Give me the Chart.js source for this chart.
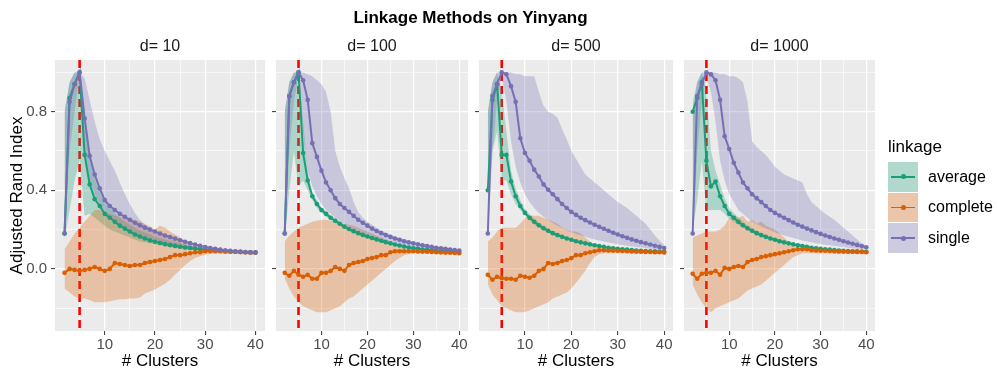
<!DOCTYPE html>
<html>
<head>
<meta charset="utf-8">
<script src="https://cdn.jsdelivr.net/npm/chart.js@4.4.1/dist/chart.umd.min.js"></script>
<style>
  body { margin: 0; background: #fff; width: 997px; height: 369px; position: relative; overflow: hidden;
         font-family: "Liberation Sans", Arial, sans-serif; }
  canvas { position: absolute; left: 0; top: 0; }
  .txt { position: absolute; white-space: nowrap; }
</style>
</head>
<body>
<script>
// x values: number of clusters
const clusters = [2,3,4,5,6,7,8,9,10,11,12,13,14,15,16,17,18,19,20,21,22,23,24,25,26,27,28,29,30,31,32,33,34,35,36,37,38,39,40];
const panelLabels = ['d= 10', 'd= 100', 'd= 500', 'd= 1000'];
const linkages = ['average', 'complete', 'single'];
const trueClusters = 5;
const xTicks = [5, 10, 15, 20, 25, 30, 35, 40];
const xLabelTicks = [10, 20, 30, 40];
const yTicks = [-0.2, 0, 0.2, 0.4, 0.6, 0.8, 1.0];
const yLabelTicks = [0, 0.4, 0.8];

// d = 10
const avg10   = [0.18,0.87,0.94,1.00,0.58,0.43,0.355,0.32,0.28,0.26,0.24,0.22,0.205,0.19,0.175,0.165,0.155,0.145,0.138,0.132,0.126,0.121,0.117,0.113,0.109,0.106,0.103,0.100,0.098,0.096,0.094,0.092,0.090,0.089,0.087,0.086,0.085,0.084,0.083];
const avg10Lo = [0.15,0.30,0.45,0.55,0.27,0.28,0.26,0.24,0.22,0.20,0.19,0.18,0.17,0.16,0.15,0.14,0.135,0.13,0.125,0.12,0.115,0.11,0.106,0.103,0.100,0.098,0.096,0.094,0.092,0.090,0.088,0.087,0.085,0.084,0.083,0.082,0.081,0.080,0.079];
const avg10Hi = [0.80,0.95,1.00,1.00,0.80,0.60,0.46,0.39,0.34,0.31,0.285,0.26,0.24,0.225,0.21,0.195,0.185,0.175,0.165,0.155,0.148,0.141,0.135,0.13,0.125,0.12,0.115,0.111,0.107,0.104,0.101,0.099,0.097,0.095,0.093,0.091,0.090,0.088,0.087];
const com10   = [-0.02,0.00,-0.005,-0.01,-0.005,0.00,0.01,0.00,-0.01,0.00,0.03,0.025,0.02,0.015,0.02,0.02,0.03,0.035,0.04,0.045,0.05,0.06,0.07,0.07,0.075,0.08,0.085,0.085,0.09,0.09,0.09,0.09,0.089,0.088,0.087,0.086,0.085,0.084,0.083];
const com10Lo = [-0.10,-0.12,-0.14,-0.15,-0.15,-0.16,-0.17,-0.17,-0.17,-0.165,-0.16,-0.155,-0.155,-0.15,-0.15,-0.145,-0.125,-0.115,-0.105,-0.09,-0.075,-0.055,-0.03,-0.005,0.02,0.04,0.055,0.065,0.072,0.076,0.078,0.078,0.077,0.077,0.076,0.075,0.074,0.073,0.072];
const com10Hi = [0.10,0.14,0.18,0.21,0.24,0.27,0.30,0.30,0.29,0.28,0.27,0.265,0.26,0.255,0.25,0.24,0.23,0.215,0.20,0.22,0.21,0.19,0.175,0.16,0.145,0.13,0.12,0.11,0.10,0.097,0.095,0.094,0.093,0.092,0.091,0.090,0.089,0.088,0.087];
const sin10   = [0.18,0.85,0.94,1.00,0.765,0.575,0.48,0.41,0.35,0.32,0.30,0.28,0.265,0.25,0.235,0.222,0.21,0.20,0.19,0.18,0.17,0.162,0.154,0.146,0.138,0.131,0.124,0.117,0.111,0.106,0.102,0.098,0.095,0.092,0.090,0.088,0.086,0.085,0.084];
const sin10Lo = [0.15,0.60,0.80,0.98,0.60,0.45,0.38,0.33,0.29,0.26,0.24,0.22,0.205,0.19,0.178,0.168,0.158,0.15,0.142,0.135,0.128,0.122,0.117,0.112,0.108,0.104,0.100,0.097,0.095,0.093,0.091,0.089,0.087,0.086,0.085,0.084,0.083,0.082,0.081];
const sin10Hi = [0.80,0.95,1.00,1.00,0.97,0.86,0.75,0.66,0.60,0.55,0.50,0.44,0.38,0.33,0.285,0.25,0.225,0.21,0.195,0.182,0.17,0.157,0.145,0.135,0.125,0.118,0.112,0.107,0.103,0.100,0.097,0.095,0.093,0.091,0.090,0.089,0.088,0.087,0.086];

// d = 100
const avg100   = [0.18,0.88,0.95,1.00,0.59,0.45,0.37,0.33,0.30,0.28,0.26,0.245,0.23,0.215,0.203,0.192,0.182,0.173,0.165,0.157,0.15,0.143,0.136,0.13,0.124,0.119,0.114,0.109,0.105,0.102,0.099,0.097,0.095,0.093,0.091,0.09,0.088,0.087,0.086];
const avg100Lo = [0.15,0.40,0.60,0.42,0.45,0.40,0.35,0.31,0.285,0.265,0.247,0.232,0.218,0.204,0.192,0.182,0.172,0.164,0.156,0.149,0.142,0.136,0.13,0.124,0.118,0.113,0.109,0.104,0.1,0.097,0.095,0.093,0.091,0.089,0.087,0.086,0.085,0.084,0.083];
const avg100Hi = [0.80,0.95,1.00,1.00,0.75,0.50,0.39,0.35,0.315,0.295,0.273,0.258,0.242,0.226,0.214,0.202,0.192,0.182,0.174,0.165,0.158,0.15,0.142,0.136,0.13,0.125,0.119,0.114,0.11,0.107,0.103,0.101,0.099,0.097,0.095,0.094,0.092,0.09,0.089];
const com100   = [-0.02,-0.035,-0.01,-0.03,-0.04,-0.03,-0.05,-0.05,-0.02,-0.02,-0.01,0.01,0.00,-0.01,0.02,0.03,0.035,0.04,0.05,0.055,0.06,0.07,0.07,0.085,0.09,0.09,0.09,0.09,0.09,0.089,0.088,0.087,0.086,0.085,0.084,0.083,0.082,0.081,0.08];
const com100Lo = [-0.05,-0.10,-0.14,-0.17,-0.19,-0.20,-0.21,-0.22,-0.22,-0.22,-0.21,-0.20,-0.19,-0.17,-0.15,-0.14,-0.12,-0.10,-0.08,-0.06,-0.04,-0.02,0.00,0.02,0.04,0.055,0.07,0.076,0.08,0.08,0.08,0.079,0.078,0.077,0.076,0.075,0.074,0.073,0.072];
const com100Hi = [0.14,0.17,0.19,0.21,0.22,0.23,0.24,0.245,0.25,0.25,0.245,0.24,0.235,0.23,0.225,0.22,0.21,0.20,0.19,0.18,0.17,0.16,0.15,0.14,0.13,0.12,0.11,0.10,0.095,0.093,0.092,0.091,0.09,0.089,0.088,0.087,0.086,0.085,0.084];
const sin100   = [0.18,0.88,0.95,1.00,0.96,0.86,0.64,0.57,0.50,0.44,0.40,0.36,0.33,0.31,0.29,0.27,0.25,0.235,0.22,0.205,0.193,0.182,0.172,0.163,0.155,0.148,0.141,0.135,0.13,0.125,0.12,0.116,0.112,0.108,0.105,0.102,0.099,0.096,0.094];
const sin100Lo = [0.15,0.60,0.85,0.98,0.70,0.50,0.42,0.37,0.33,0.30,0.28,0.26,0.245,0.23,0.215,0.20,0.19,0.18,0.17,0.162,0.154,0.147,0.14,0.134,0.128,0.123,0.118,0.113,0.109,0.106,0.103,0.1,0.098,0.096,0.094,0.092,0.09,0.089,0.088];
const sin100Hi = [0.80,0.95,1.00,1.00,1.00,0.99,0.98,0.96,0.94,0.90,0.80,0.60,0.52,0.46,0.41,0.34,0.29,0.26,0.24,0.225,0.21,0.197,0.185,0.175,0.165,0.157,0.149,0.142,0.135,0.129,0.124,0.119,0.114,0.11,0.106,0.103,0.1,0.097,0.095];

// d = 500
const avg500   = [0.40,0.86,0.94,0.58,0.58,0.445,0.37,0.32,0.285,0.26,0.24,0.222,0.207,0.194,0.182,0.172,0.163,0.155,0.148,0.141,0.135,0.13,0.125,0.12,0.116,0.112,0.108,0.105,0.102,0.1,0.098,0.096,0.094,0.092,0.091,0.09,0.089,0.088,0.087];
const avg500Lo = [0.25,0.60,0.70,0.45,0.45,0.38,0.33,0.30,0.27,0.245,0.226,0.21,0.196,0.184,0.173,0.164,0.156,0.149,0.142,0.136,0.131,0.126,0.121,0.117,0.113,0.109,0.106,0.103,0.1,0.098,0.096,0.094,0.092,0.09,0.089,0.088,0.087,0.086,0.085];
const avg500Hi = [0.80,0.95,1.00,0.90,0.70,0.50,0.41,0.35,0.305,0.278,0.256,0.236,0.22,0.206,0.193,0.182,0.172,0.163,0.155,0.148,0.141,0.135,0.13,0.125,0.12,0.116,0.112,0.108,0.105,0.102,0.1,0.098,0.096,0.094,0.093,0.092,0.091,0.09,0.089];
const com500   = [-0.03,-0.055,-0.04,-0.047,-0.05,-0.05,-0.055,-0.035,-0.04,-0.045,-0.035,-0.01,0.00,0.03,0.025,0.03,0.04,0.045,0.055,0.07,0.07,0.08,0.085,0.09,0.095,0.095,0.094,0.093,0.092,0.091,0.09,0.089,0.088,0.087,0.086,0.086,0.085,0.085,0.084];
const com500Lo = [-0.08,-0.13,-0.16,-0.19,-0.20,-0.21,-0.22,-0.22,-0.22,-0.21,-0.20,-0.19,-0.18,-0.17,-0.15,-0.14,-0.13,-0.12,-0.10,-0.07,-0.04,-0.01,0.03,0.06,0.075,0.08,0.08,0.08,0.08,0.079,0.079,0.078,0.078,0.077,0.077,0.077,0.076,0.076,0.076];
const com500Hi = [0.14,0.16,0.19,0.21,0.21,0.21,0.21,0.23,0.26,0.27,0.27,0.27,0.26,0.25,0.24,0.23,0.21,0.20,0.19,0.19,0.18,0.16,0.14,0.12,0.11,0.10,0.097,0.096,0.095,0.094,0.093,0.092,0.091,0.09,0.09,0.089,0.089,0.088,0.088];
const sin500   = [0.18,0.88,0.94,1.00,0.99,0.93,0.85,0.665,0.59,0.55,0.505,0.47,0.43,0.403,0.38,0.355,0.33,0.31,0.29,0.275,0.26,0.248,0.236,0.225,0.214,0.204,0.194,0.184,0.175,0.166,0.158,0.15,0.143,0.136,0.13,0.124,0.118,0.112,0.106];
const sin500Lo = [0.15,0.60,0.85,0.98,0.85,0.65,0.52,0.44,0.38,0.34,0.31,0.285,0.265,0.248,0.233,0.22,0.208,0.197,0.187,0.178,0.17,0.163,0.156,0.15,0.144,0.139,0.134,0.13,0.126,0.122,0.118,0.115,0.112,0.109,0.106,0.103,0.1,0.098,0.096];
const sin500Hi = [0.80,0.95,1.00,1.00,1.00,1.00,0.99,0.99,0.98,0.98,0.98,0.90,0.83,0.80,0.79,0.77,0.71,0.66,0.60,0.56,0.52,0.48,0.46,0.44,0.42,0.40,0.38,0.36,0.34,0.325,0.31,0.29,0.27,0.25,0.23,0.20,0.17,0.145,0.12];

// d = 1000
const avg1000   = [0.80,0.87,0.95,0.55,0.42,0.445,0.37,0.32,0.28,0.26,0.24,0.222,0.207,0.194,0.182,0.172,0.163,0.155,0.148,0.141,0.135,0.13,0.125,0.12,0.116,0.112,0.108,0.105,0.102,0.1,0.098,0.096,0.094,0.092,0.091,0.09,0.089,0.088,0.087];
const avg1000Lo = [0.20,0.35,0.55,0.30,0.30,0.30,0.30,0.28,0.255,0.24,0.224,0.21,0.196,0.184,0.173,0.164,0.156,0.149,0.142,0.136,0.131,0.126,0.121,0.117,0.113,0.109,0.106,0.103,0.1,0.098,0.096,0.094,0.092,0.09,0.089,0.088,0.087,0.086,0.085];
const avg1000Hi = [0.85,0.95,1.00,0.90,0.60,0.50,0.43,0.36,0.31,0.285,0.262,0.24,0.222,0.207,0.194,0.183,0.173,0.164,0.156,0.149,0.142,0.136,0.131,0.126,0.121,0.117,0.113,0.109,0.106,0.103,0.101,0.099,0.097,0.095,0.094,0.093,0.092,0.091,0.09];
const com1000   = [-0.025,-0.05,-0.025,-0.02,-0.02,-0.01,-0.03,0.005,0.00,0.01,0.015,0.01,0.035,0.045,0.05,0.06,0.065,0.07,0.075,0.08,0.085,0.09,0.095,0.10,0.10,0.10,0.095,0.094,0.093,0.092,0.091,0.09,0.089,0.088,0.087,0.087,0.086,0.086,0.085];
const com1000Lo = [-0.08,-0.13,-0.17,-0.20,-0.22,-0.20,-0.19,-0.18,-0.17,-0.16,-0.15,-0.13,-0.11,-0.10,-0.09,-0.08,-0.06,-0.04,-0.02,0.00,0.02,0.04,0.06,0.07,0.08,0.08,0.079,0.079,0.078,0.078,0.078,0.077,0.077,0.077,0.076,0.076,0.076,0.076,0.075];
const com1000Hi = [0.16,0.17,0.18,0.19,0.19,0.19,0.20,0.22,0.26,0.27,0.26,0.27,0.24,0.25,0.23,0.24,0.22,0.21,0.20,0.18,0.16,0.14,0.12,0.11,0.10,0.098,0.097,0.096,0.095,0.094,0.093,0.092,0.091,0.09,0.09,0.089,0.089,0.088,0.088];
const sin1000   = [0.18,0.88,0.94,1.00,0.99,0.96,0.86,0.675,0.61,0.54,0.49,0.44,0.41,0.38,0.36,0.34,0.32,0.30,0.285,0.272,0.26,0.248,0.236,0.225,0.215,0.205,0.196,0.187,0.178,0.17,0.162,0.155,0.148,0.141,0.134,0.128,0.122,0.116,0.11];
const sin1000Lo = [0.15,0.60,0.85,0.98,0.90,0.75,0.55,0.45,0.38,0.34,0.30,0.28,0.26,0.24,0.228,0.216,0.205,0.195,0.185,0.177,0.17,0.163,0.157,0.151,0.145,0.14,0.135,0.131,0.127,0.123,0.12,0.117,0.114,0.111,0.108,0.105,0.103,0.101,0.099];
const sin1000Hi = [0.80,0.95,1.00,1.00,1.00,1.00,0.99,0.99,0.98,0.98,0.97,0.95,0.85,0.65,0.62,0.60,0.58,0.55,0.52,0.50,0.48,0.47,0.46,0.45,0.44,0.38,0.34,0.32,0.30,0.28,0.265,0.25,0.23,0.21,0.19,0.17,0.15,0.13,0.115];

const panels = [
  { mean: [avg10, com10, sin10],       lo: [avg10Lo, com10Lo, sin10Lo],       hi: [avg10Hi, com10Hi, sin10Hi] },
  { mean: [avg100, com100, sin100],    lo: [avg100Lo, com100Lo, sin100Lo],    hi: [avg100Hi, com100Hi, sin100Hi] },
  { mean: [avg500, com500, sin500],    lo: [avg500Lo, com500Lo, sin500Lo],    hi: [avg500Hi, com500Hi, sin500Hi] },
  { mean: [avg1000, com1000, sin1000], lo: [avg1000Lo, com1000Lo, sin1000Lo], hi: [avg1000Hi, com1000Hi, sin1000Hi] }
];

// layout (pixels)
const W = 997, H = 369;
const boxes = [{ left: 55, right: 265 }, { left: 276, right: 468 }, { left: 479, right: 673 }, { left: 684, right: 875 }];
const plotTop = 60, plotBottom = 331;

const lineColors = ['#1B9E77', '#D95F02', '#7570B3'];
const ribbonColors = ['rgba(27,158,119,0.3)', 'rgba(217,95,2,0.3)', 'rgba(117,112,179,0.3)'];

Chart.defaults.font.family = '"Liberation Sans", Arial, sans-serif';

const toPoints = arr => clusters.map((x, i) => ({ x: x, y: arr[i] }));

const panelBg = {
  id: 'panelBg',
  beforeDraw(chart) {
    const a = chart.chartArea, ctx = chart.ctx;
    ctx.save();
    ctx.fillStyle = '#EBEBEB';
    ctx.fillRect(a.left, a.top, a.right - a.left, a.bottom - a.top);
    ctx.restore();
  }
};

// dashed red line at the true number of clusters (under the ribbons)
const trueLine = {
  id: 'trueLine',
  beforeDatasetsDraw(chart) {
    const a = chart.chartArea, ctx = chart.ctx;
    const px = chart.scales.x.getPixelForValue(trueClusters);
    ctx.save();
    ctx.strokeStyle = '#FF0000';
    ctx.lineWidth = 2.6;
    ctx.setLineDash([8, 5]);
    ctx.beginPath();
    ctx.moveTo(px, a.top);
    ctx.lineTo(px, a.bottom);
    ctx.stroke();
    ctx.restore();
  }
};

function addText(txt, css) {
  const d = document.createElement('div');
  d.className = 'txt';
  d.textContent = txt;
  Object.assign(d.style, css);
  document.body.appendChild(d);
  return d;
}

panels.forEach((p, i) => {
  const box = boxes[i];
  const yW = i === 0 ? 55 : 4;
  const datasets = [];
  // ribbons: lower edge then upper edge filled down to it
  linkages.forEach((name, k) => {
    const loIdx = datasets.length;
    datasets.push({ data: toPoints(p.lo[k]), borderWidth: 0, pointRadius: 0, fill: false, order: 30 - k });
    datasets.push({ data: toPoints(p.hi[k]), borderWidth: 0, pointRadius: 0, fill: loIdx,
                    backgroundColor: ribbonColors[k], order: 30 - k });
  });
  linkages.forEach((name, k) => {
    datasets.push({ label: name, data: toPoints(p.mean[k]), borderColor: lineColors[k], borderWidth: 2,
                    pointRadius: 2.3, pointBackgroundColor: lineColors[k], pointBorderWidth: 0,
                    fill: false, tension: 0, order: 12 - k });
  });

  const canvas = document.createElement('canvas');
  canvas.width = W; canvas.height = H;
  document.body.appendChild(canvas);

  new Chart(canvas, {
    type: 'line',
    data: { datasets },
    options: {
      responsive: false, animation: false, devicePixelRatio: 1,
      layout: { padding: { left: box.left - yW, right: W - box.right, top: plotTop, bottom: 0 } },
      plugins: { legend: { display: false }, tooltip: { enabled: false } },
      scales: {
        x: {
          type: 'linear', min: 0.1, max: 41.9,
          border: { display: false },
          afterBuildTicks: s => { s.ticks = xTicks.map(v => ({ value: v })); },
          afterFit: s => { s.height = H - plotBottom; },
          grid: {
            color: '#FFFFFF',
            lineWidth: c => (c.tick && xLabelTicks.includes(c.tick.value)) ? 1.2 : 0.6,
            tickLength: 4,
            tickColor: c => (c.tick && xLabelTicks.includes(c.tick.value)) ? '#333333' : 'rgba(0,0,0,0)',
            tickWidth: 1
          },
          ticks: { autoSkip: false, maxRotation: 0, padding: 1, color: '#4D4D4D', font: { size: 15 },
                   callback: v => xLabelTicks.includes(v) ? String(v) : '' },
          title: { display: true, text: '# Clusters', color: '#000000', font: { size: 17, lineHeight: 1 },
                   padding: { top: 0, bottom: -1 } }
        },
        y: {
          type: 'linear', min: -0.316, max: 1.063,
          border: { display: false },
          afterBuildTicks: s => { s.ticks = yTicks.map(v => ({ value: v })); },
          afterFit: s => { s.width = yW; },
          grid: {
            color: '#FFFFFF',
            lineWidth: c => (c.tick && yLabelTicks.includes(c.tick.value)) ? 1.2 : 0.6,
            tickLength: 4,
            tickColor: c => (c.tick && yLabelTicks.includes(c.tick.value)) ? '#333333' : 'rgba(0,0,0,0)',
            tickWidth: 1
          },
          ticks: { display: i === 0, autoSkip: false, padding: 4, color: '#4D4D4D', font: { size: 15 },
                   callback: v => yLabelTicks.includes(v) ? v.toFixed(1) : '' },
          title: { display: i === 0, text: 'Adjusted Rand Index', color: '#000000', font: { size: 17 },
                   padding: { top: 7, bottom: 0 } }
        }
      }
    },
    plugins: [panelBg, trueLine]
  });

  addText(panelLabels[i], { left: box.left + 'px', width: (box.right - box.left) + 'px', textAlign: 'center',
                            top: '38px', fontSize: '16px', lineHeight: '16px', color: '#1A1A1A' });
});

addText('Linkage Methods on Yinyang', { left: '0px', width: '941px', textAlign: 'center', top: '9px',
                                        fontSize: '17px', lineHeight: '17px', fontWeight: 'bold', color: '#000' });

// legend
addText('linkage', { left: '888px', top: '138px', fontSize: '17px', lineHeight: '17px', color: '#000' });
const keyTops = [162, 192.7, 223.3];
linkages.forEach((name, k) => {
  const key = document.createElement('div');
  Object.assign(key.style, { position: 'absolute', left: '888px', top: keyTops[k] + 'px', width: '30px', height: '29.5px',
                             background: 'linear-gradient(' + ribbonColors[k] + ',' + ribbonColors[k] + '), #F2F2F2' });
  const ln = document.createElement('div');
  Object.assign(ln.style, { position: 'absolute', left: '3px', width: '24px', top: '14px', height: '1.8px', background: lineColors[k] });
  const dot = document.createElement('div');
  Object.assign(dot.style, { position: 'absolute', left: '12.5px', top: '12.4px', width: '5px', height: '5px',
                             borderRadius: '2.5px', background: lineColors[k] });
  key.appendChild(ln); key.appendChild(dot);
  document.body.appendChild(key);
  addText(name, { left: '928px', top: (keyTops[k] + 6.5) + 'px', fontSize: '16px', lineHeight: '16px', color: '#000' });
});
</script>
</body>
</html>
